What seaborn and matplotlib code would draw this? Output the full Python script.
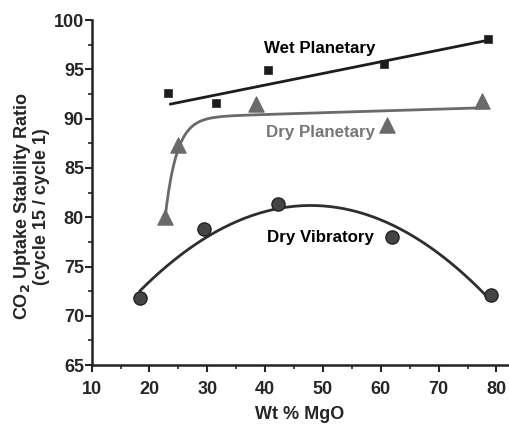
import numpy as np
import pandas as pd
import matplotlib
matplotlib.use("Agg")
import matplotlib.pyplot as plt
from matplotlib.ticker import MultipleLocator
import seaborn as sns

# Data
wet_x = [23.2, 31.5, 40.5, 60.5, 78.5]
wet_y = [92.6, 91.6, 94.9, 95.5, 98.1]
dryp_x = [22.7, 25.0, 38.5, 61.0, 77.5]
dryp_y = [80.0, 87.3, 91.5, 89.4, 91.8]
dryv_x = [18.3, 29.5, 42.3, 62.0, 79.0]
dryv_y = [71.8, 78.8, 81.3, 78.0, 72.1]

# Trend-line parameters
wet_slope = 0.118
wet_intercept = 88.69
wet_range = (23.6, 79.0)

dryp_plateau = 90.3
dryp_slope = 0.018
dryp_amp = 10.7
dryp_tau = 2.0
dryp_x0 = 22.6
dryp_range = (22.6, 78.0)

x_ticks = [10, 20, 30, 40, 50, 60, 70, 80]
y_ticks = [65, 70, 75, 80, 85, 90, 95, 100]

sns.set_style("ticks")
plt.rcParams['font.family'] = ['Liberation Sans', 'DejaVu Sans']
plt.rcParams['font.weight'] = 'bold'

fig = plt.figure(figsize=(5.09, 4.28), dpi=100)
ax = fig.add_axes([0.180, 0.147, 0.818, 0.806])

c_wet = "#1c1c1c"
c_dryp = "#6a6a6a"
c_dryv = "#2e2e2e"

# Fitted lines
xw = np.linspace(*wet_range, 100)
sns.lineplot(x=xw, y=wet_intercept + wet_slope * xw, ax=ax, color=c_wet, lw=2)

xd = np.linspace(*dryp_range, 300)
yd = dryp_plateau + dryp_slope * (xd - 33) - dryp_amp * np.exp(-(xd - dryp_x0) / dryp_tau)
sns.lineplot(x=xd, y=yd, ax=ax, color=c_dryp, lw=2)

xv = np.linspace(18.3, 79.0, 200)
pv = np.polyfit(dryv_x, dryv_y, 2)
sns.lineplot(x=xv, y=np.polyval(pv, xv), ax=ax, color=c_dryv, lw=2)

# Markers
sns.scatterplot(x=wet_x, y=wet_y, ax=ax, marker="s", s=35, color=c_wet, edgecolor=c_wet, zorder=5)
sns.scatterplot(x=dryp_x, y=dryp_y, ax=ax, marker="^", s=120, color=c_dryp, edgecolor=c_dryp, zorder=5)
sns.scatterplot(x=dryv_x, y=dryv_y, ax=ax, marker="o", s=90, color="#444444", edgecolor="#222222", linewidth=1, zorder=5)

# Labels
ax.text(49.4, 97.1, "Wet Planetary", ha="center", va="center", fontsize=12.2, fontweight="bold", color="black")
ax.text(49.5, 88.6, "Dry Planetary", ha="center", va="center", fontsize=12.2, fontweight="bold", color="#777777")
ax.text(49.5, 77.9, "Dry Vibratory", ha="center", va="center", fontsize=12.2, fontweight="bold", color="black")

ax.set_xlim(10, 82)
ax.set_ylim(65, 100)
ax.set_xticks(x_ticks)
ax.set_yticks(y_ticks)
ax.xaxis.set_minor_locator(MultipleLocator(5))
ax.yaxis.set_minor_locator(MultipleLocator(2.5))
ax.tick_params(which="major", length=5, width=1.5, labelsize=13, direction="out")
ax.tick_params(axis="x", which="major", pad=6.3)
ax.tick_params(axis="y", which="major", pad=0.5)
ax.tick_params(which="minor", length=3, width=1.2, direction="out")
for lab in ax.get_xticklabels() + ax.get_yticklabels():
    lab.set_fontweight("bold")
for s in ["left", "bottom"]:
    ax.spines[s].set_linewidth(1.8)
    ax.spines[s].set_color("#222222")
sns.despine(ax=ax)

ax.set_xlabel("Wt % MgO", fontsize=13, fontweight="bold", labelpad=6)
ax.set_ylabel("CO$_\\mathbf{2}$ Uptake Stability Ratio\n(cycle 15 / cycle 1)", fontsize=13, fontweight="bold", linespacing=1.0)
ax.yaxis.set_label_coords(-0.100, 0.46)

fig.savefig("out.png", dpi=100)
